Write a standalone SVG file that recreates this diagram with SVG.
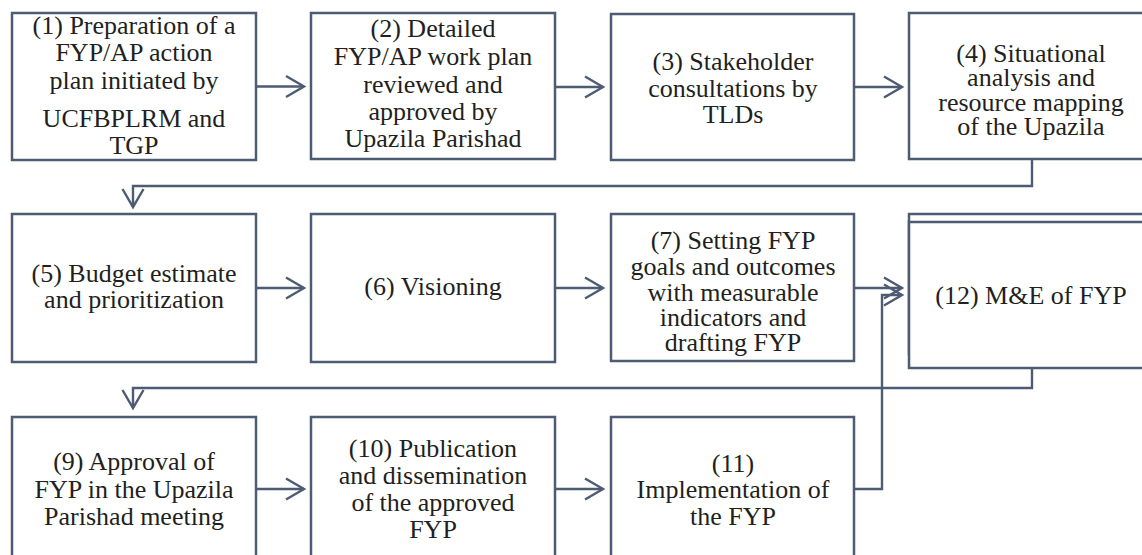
<svg xmlns="http://www.w3.org/2000/svg" width="1142" height="555" viewBox="0 0 1142 555">
  <style>
    .box { fill: #ffffff; stroke: #4d5b73; stroke-width: 2.5; }
    .wire { fill: none; stroke: #4d5b73; stroke-width: 2.4; }
  </style>
  <defs>
    <!-- open chevron arrowhead, tip at the origin, pointing along +x -->
    <path id="chev" d="M-18,-10.5 L0,0 L-18,10.5" fill="none" stroke="#4d5b73" stroke-width="2.4"/>
  </defs>
  <rect width="1142" height="555" fill="#ffffff"/>

  <!-- Row 1 -->
  <g id="step1">
    <rect class="box" x="12" y="13" width="244" height="147"/>
    <text font-family="Liberation Serif" font-size="26" fill="#231f20" text-anchor="middle" x="134" y="34">(1) Preparation of a</text>
    <text font-family="Liberation Serif" font-size="26" fill="#231f20" text-anchor="middle" x="134" y="61">FYP/AP action</text>
    <text font-family="Liberation Serif" font-size="26" fill="#231f20" text-anchor="middle" x="134" y="89">plan initiated by</text>
    <text font-family="Liberation Serif" font-size="26" fill="#231f20" text-anchor="middle" x="134" y="127">UCFBPLRM and</text>
    <text font-family="Liberation Serif" font-size="26" fill="#231f20" text-anchor="middle" x="134" y="154">TGP</text>
  </g>
  <g id="step2">
    <rect class="box" x="311" y="13" width="244" height="146"/>
    <text font-family="Liberation Serif" font-size="26" fill="#231f20" text-anchor="middle" x="433" y="37">(2) Detailed</text>
    <text font-family="Liberation Serif" font-size="26" fill="#231f20" text-anchor="middle" x="433" y="65">FYP/AP work plan</text>
    <text font-family="Liberation Serif" font-size="26" fill="#231f20" text-anchor="middle" x="433" y="93">reviewed and</text>
    <text font-family="Liberation Serif" font-size="26" fill="#231f20" text-anchor="middle" x="433" y="120">approved by</text>
    <text font-family="Liberation Serif" font-size="26" fill="#231f20" text-anchor="middle" x="433" y="147">Upazila Parishad</text>
  </g>
  <g id="step3">
    <rect class="box" x="611" y="14" width="243" height="146"/>
    <text font-family="Liberation Serif" font-size="26" fill="#231f20" text-anchor="middle" x="733" y="70">(3) Stakeholder</text>
    <text font-family="Liberation Serif" font-size="26" fill="#231f20" text-anchor="middle" x="733" y="97">consultations by</text>
    <text font-family="Liberation Serif" font-size="26" fill="#231f20" text-anchor="middle" x="733" y="123">TLDs</text>
  </g>
  <g id="step4">
    <rect class="box" x="909" y="13" width="244" height="146"/>
    <text font-family="Liberation Serif" font-size="26" fill="#231f20" text-anchor="middle" x="1031" y="62">(4) Situational</text>
    <text font-family="Liberation Serif" font-size="26" fill="#231f20" text-anchor="middle" x="1031" y="86">analysis and</text>
    <text font-family="Liberation Serif" font-size="26" fill="#231f20" text-anchor="middle" x="1031" y="111">resource mapping</text>
    <text font-family="Liberation Serif" font-size="26" fill="#231f20" text-anchor="middle" x="1031" y="135">of the Upazila</text>
  </g>

  <!-- Row 2 -->
  <g id="step5">
    <rect class="box" x="12" y="214" width="244" height="148"/>
    <text font-family="Liberation Serif" font-size="26" fill="#231f20" text-anchor="middle" x="134" y="282">(5) Budget estimate</text>
    <text font-family="Liberation Serif" font-size="26" fill="#231f20" text-anchor="middle" x="134" y="308">and prioritization</text>
  </g>
  <g id="step6">
    <rect class="box" x="311" y="214" width="244" height="148"/>
    <text font-family="Liberation Serif" font-size="26" fill="#231f20" text-anchor="middle" x="433" y="295">(6) Visioning</text>
  </g>
  <g id="step7">
    <rect class="box" x="611" y="214" width="243" height="147"/>
    <text font-family="Liberation Serif" font-size="26" fill="#231f20" text-anchor="middle" x="733" y="249">(7) Setting FYP</text>
    <text font-family="Liberation Serif" font-size="26" fill="#231f20" text-anchor="middle" x="733" y="275">goals and outcomes</text>
    <text font-family="Liberation Serif" font-size="26" fill="#231f20" text-anchor="middle" x="733" y="301">with measurable</text>
    <text font-family="Liberation Serif" font-size="26" fill="#231f20" text-anchor="middle" x="733" y="326">indicators and</text>
    <text font-family="Liberation Serif" font-size="26" fill="#231f20" text-anchor="middle" x="733" y="351">drafting FYP</text>
  </g>
  <g id="step12">
    <rect class="box" x="909" y="214" width="244" height="140"/>
    <rect class="box" x="909" y="222" width="244" height="146"/>
    <text font-family="Liberation Serif" font-size="26" fill="#231f20" text-anchor="middle" x="1031" y="304">(12) M&amp;E of FYP</text>
  </g>

  <!-- Row 3 -->
  <g id="step9">
    <rect class="box" x="12" y="417" width="244" height="150"/>
    <text font-family="Liberation Serif" font-size="26" fill="#231f20" text-anchor="middle" x="134" y="470">(9) Approval of</text>
    <text font-family="Liberation Serif" font-size="26" fill="#231f20" text-anchor="middle" x="134" y="498">FYP in the Upazila</text>
    <text font-family="Liberation Serif" font-size="26" fill="#231f20" text-anchor="middle" x="134" y="525">Parishad meeting</text>
  </g>
  <g id="step10">
    <rect class="box" x="311" y="417" width="244" height="150"/>
    <text font-family="Liberation Serif" font-size="26" fill="#231f20" text-anchor="middle" x="433" y="457">(10) Publication</text>
    <text font-family="Liberation Serif" font-size="26" fill="#231f20" text-anchor="middle" x="433" y="484">and dissemination</text>
    <text font-family="Liberation Serif" font-size="26" fill="#231f20" text-anchor="middle" x="433" y="511">of the approved</text>
    <text font-family="Liberation Serif" font-size="26" fill="#231f20" text-anchor="middle" x="433" y="538">FYP</text>
  </g>
  <g id="step11">
    <rect class="box" x="611" y="417" width="243" height="150"/>
    <text font-family="Liberation Serif" font-size="26" fill="#231f20" text-anchor="middle" x="733" y="472">(11)</text>
    <text font-family="Liberation Serif" font-size="26" fill="#231f20" text-anchor="middle" x="733" y="498">Implementation of</text>
    <text font-family="Liberation Serif" font-size="26" fill="#231f20" text-anchor="middle" x="733" y="525">the FYP</text>
  </g>

  <!-- Connectors: straight hand-offs within a row, elbow links between rows -->
  <g id="connectors">
    <path class="wire" d="M256,86.5 H304"/>
    <use href="#chev" transform="translate(304,86.5)"/>
    <path class="wire" d="M555,87 H603"/>
    <use href="#chev" transform="translate(603,87)"/>
    <path class="wire" d="M854,87 H902"/>
    <use href="#chev" transform="translate(902,87)"/>
    <path class="wire" d="M1032,159 V186 H133 V207"/>
    <use href="#chev" transform="translate(133,207) rotate(90)"/>
    <path class="wire" d="M256,288 H304"/>
    <use href="#chev" transform="translate(304,288)"/>
    <path class="wire" d="M555,288 H603"/>
    <use href="#chev" transform="translate(603,288)"/>
    <path class="wire" d="M854,288 H902"/>
    <use href="#chev" transform="translate(902,288)"/>
    <path class="wire" d="M1032,368 V388 H133 V408"/>
    <use href="#chev" transform="translate(133,408) rotate(90)"/>
    <path class="wire" d="M256,489 H304"/>
    <use href="#chev" transform="translate(304,489)"/>
    <path class="wire" d="M555,489 H603"/>
    <use href="#chev" transform="translate(603,489)"/>
    <path class="wire" d="M854,489 H882 V295 H902"/>
    <use href="#chev" transform="translate(902,295)"/>
  </g>
</svg>
